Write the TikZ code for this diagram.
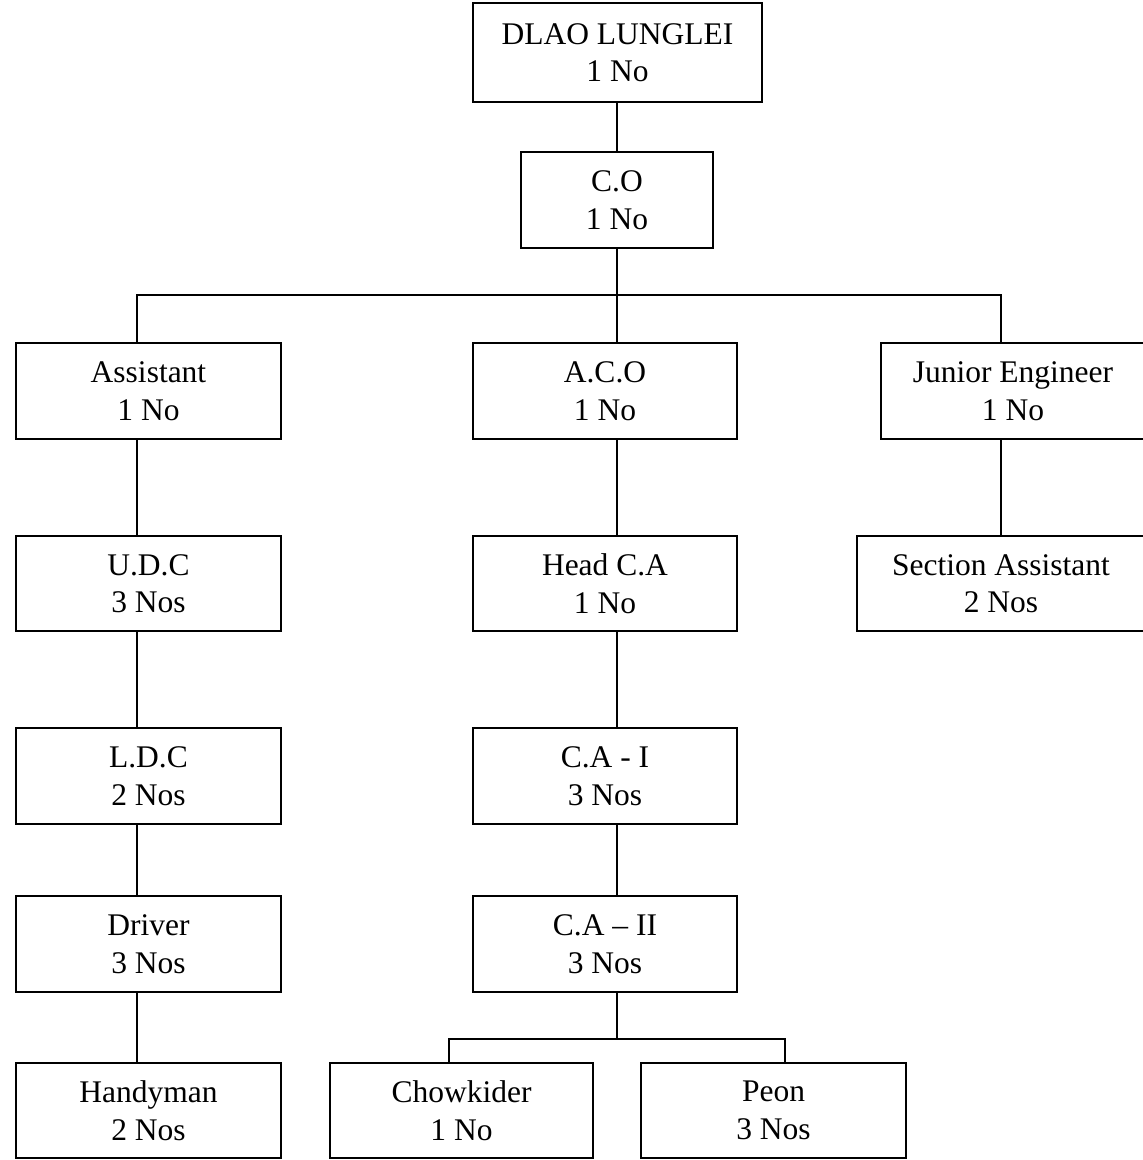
\documentclass[tikz,border=0pt]{standalone}
\usepackage{fontspec}
\setmainfont{Liberation Serif}
\begin{document}
\begin{tikzpicture}[x=1pt,y=-1pt,
  box/.style={draw, line width=2.2pt, rectangle, inner sep=0pt, outer sep=0pt, align=center,
    font=\fontsize{31.5}{37.5}\selectfont},
  link/.style={line width=2.2pt}]
\useasboundingbox (0,0) rectangle (1143,1160);
\clip (0,0) rectangle (1143,1160);
% nodes
\node[box, minimum width=289pt, minimum height=99pt] (dlao) at (617.5,52.5) {DLAO LUNGLEI\\1 No};
\node[box, minimum width=192pt, minimum height=96pt] (co) at (617,200) {C.O\\1 No};
\node[box, minimum width=265pt, minimum height=96pt] (asst) at (148.5,391) {Assistant\\1 No};
\node[box, minimum width=264pt, minimum height=96pt] (aco) at (605,391) {A.C.O\\1 No};
\node[box, minimum width=264pt, minimum height=96pt] (je) at (1013,391) {Junior Engineer\\1 No};
\node[box, minimum width=265pt, minimum height=95pt] (udc) at (148.5,583.5) {U.D.C\\3 Nos};
\node[box, minimum width=264pt, minimum height=95pt] (hca) at (605,583.5) {Head C.A\\1 No};
\node[box, minimum width=288pt, minimum height=95pt] (sa) at (1001,583.5) {Section Assistant\\2 Nos};
\node[box, minimum width=265pt, minimum height=96pt] (ldc) at (148.5,776) {L.D.C\\2 Nos};
\node[box, minimum width=264pt, minimum height=96pt] (ca1) at (605,776) {C.A - I\\3 Nos};
\node[box, minimum width=265pt, minimum height=96pt] (drv) at (148.5,944) {Driver\\3 Nos};
\node[box, minimum width=264pt, minimum height=96pt] (ca2) at (605,944) {C.A – II\\3 Nos};
\node[box, minimum width=265pt, minimum height=95pt] (hand) at (148.5,1110.5) {Handyman\\2 Nos};
\node[box, minimum width=263pt, minimum height=95pt] (chow) at (461.5,1110.5) {Chowkider\\1 No};
\node[box, minimum width=265pt, minimum height=95pt] (peon) at (773.5,1110.5) {Peon\\3 Nos};
% junction coordinates
\coordinate (j1) at (617,295);
\coordinate (jl) at (137,295);
\coordinate (jr) at (1001,295);
\coordinate (j2) at (617,1039);
\coordinate (jc) at (449,1039);
\coordinate (jp) at (785,1039);
% connectors
\draw[link] (dlao.south -| co.north) -- (co.north);
\draw[link] (co.south) -- (j1);
\draw[link] (jl |- asst.north) -- (jl) -- (jr) -- (jr |- je.north);
\draw[link] (j1) -- (j1 |- aco.north);
\draw[link] (asst.south -| jl) -- (udc.north -| jl);
\draw[link] (udc.south -| jl) -- (ldc.north -| jl);
\draw[link] (ldc.south -| jl) -- (drv.north -| jl);
\draw[link] (drv.south -| jl) -- (hand.north -| jl);
\draw[link] (aco.south -| j1) -- (hca.north -| j1);
\draw[link] (hca.south -| j1) -- (ca1.north -| j1);
\draw[link] (ca1.south -| j1) -- (ca2.north -| j1);
\draw[link] (je.south -| jr) -- (sa.north -| jr);
\draw[link] (ca2.south -| j2) -- (j2);
\draw[link] (jc |- chow.north) -- (jc) -- (jp) -- (jp |- peon.north);
\end{tikzpicture}
\end{document}
